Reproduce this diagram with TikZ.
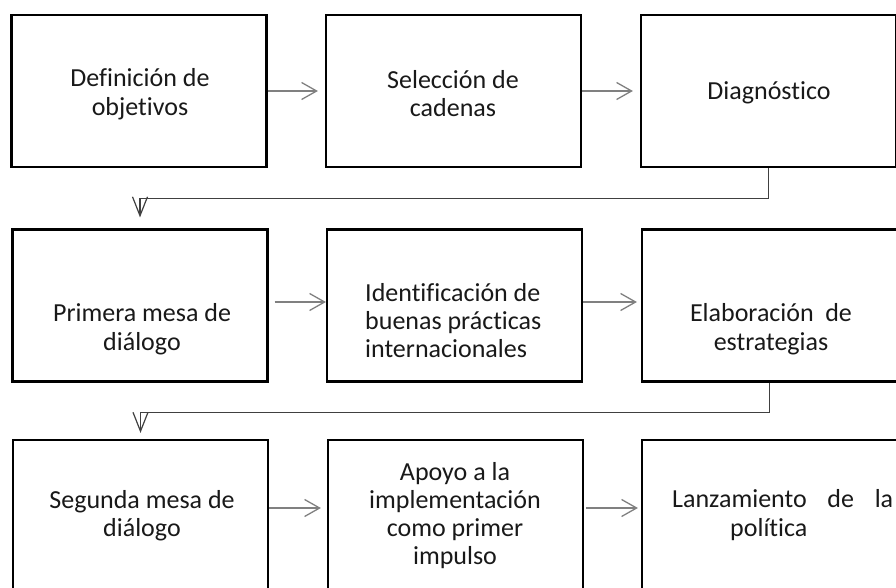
\documentclass[tikz,border=0pt]{standalone}
\usepackage{fontspec}
\setmainfont{Carlito}[Ligatures=NoCommon]
\usetikzlibrary{arrows.meta}
\begin{document}
\begin{tikzpicture}[x=1pt,y=-1pt,
  box/.style={draw=black, line width=2.2pt, minimum width=255pt, minimum height=152pt, inner sep=0pt},
  lbl/.style={font=\fontsize{26}{28.3}\selectfont, align=center, inner sep=0pt, anchor=base, text=black!90},
  harrow/.style={draw=black!50, line width=1.3pt, -{Straight Barb[length=15pt,width=17pt]}},
  varrow/.style={draw=black!75, line width=1.2pt, -{Straight Barb[length=19pt,width=15pt]}}]
\useasboundingbox (0,0) rectangle (896,588);
\clip (0,0) rectangle (896,588);
\fill[white] (0,0) rectangle (896,588);
% boxes
\node[box] (b1) at (139,91) {};
\node[box] (b2) at (453.5,91) {};
\node[box] (b3) at (768.5,91) {};
\node[box] (b4) at (140,305.5) {};
\node[box] (b5) at (454.5,305.5) {};
\node[box] (b6) at (769.5,305.5) {};
\node[box] (b7) at (140.5,516) {};
\node[box] (b8) at (455.5,516) {};
\node[box] (b9) at (769.5,516) {};
% texts (anchor base = last line baseline)
\node[lbl] (t1) at (140,115.3) {Definición de\\objetivos};
\node[lbl] (t2) at (453,116.5) {Selección de\\cadenas};
\node[lbl] (t3) at (769,100) {Diagnóstico};
\node[lbl] (t4) at (142,350) {Primera mesa de\\diálogo};
\node[lbl, align=left, anchor=base west] (t5) at (365,357.6) {Identificación de\\buenas prácticas\\internacionales};
\node[lbl] (t6) at (771,350) {\hbox to 162pt{Elaboración\hfill de}\\estrategias};
\node[lbl] (t7) at (142,536.5) {Segunda mesa de\\diálogo};
\node[lbl] (t8) at (455,564.9) {Apoyo a la\\implementación\\como primer\\impulso};
\node[lbl, align=left, anchor=base west] (t9) at (672,536) {\hbox to 221pt{Lanzamiento\hfill de\hfill la}\\\hbox to 221pt{\hskip58pt política\hfill}};
% horizontal arrows
\draw[harrow, shorten >=7pt] (b1.east) -- (b2.west);
\draw[harrow, shorten >=7pt] (b2.east) -- (b3.west);
\draw[harrow, shorten <=6pt] ([yshift=3.5pt]b4.east) -- ([yshift=3.5pt]b5.west);
\draw[harrow, shorten >=4pt] ([yshift=3.5pt]b5.east) -- ([yshift=3.5pt]b6.west);
\draw[harrow, shorten >=6pt] ([yshift=8pt]b7.east) -- ([yshift=8pt]b8.west);
\draw[harrow, shorten <=2pt, shorten >=3pt] ([yshift=8pt]b8.east) -- ([yshift=8pt]b9.west);
% row connectors
\draw[varrow, shorten >=11pt] (b3.south) -- ++(0,30) -| (b4.north);
\draw[varrow, shorten >=6pt] (b6.south) -- ++(0,30) -| (b7.north);
\end{tikzpicture}
\end{document}
